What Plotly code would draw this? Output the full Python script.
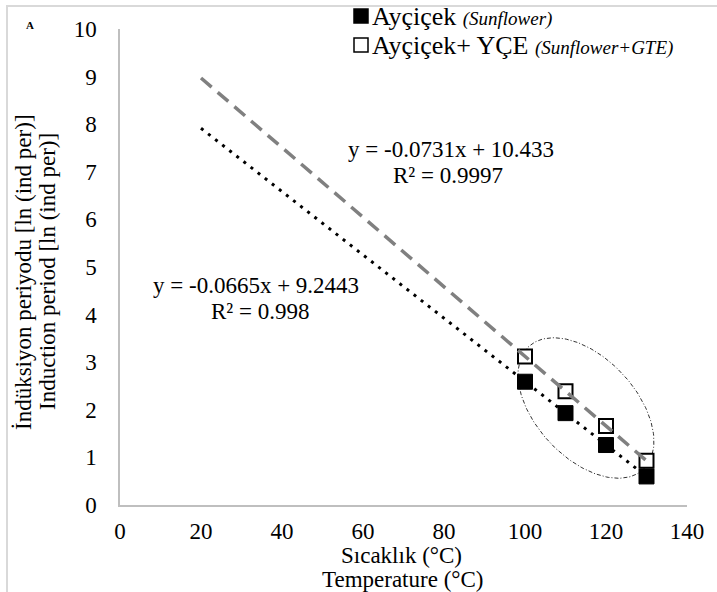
import numpy as np
import plotly.graph_objects as go

# ---- data ----
temps = [100, 110, 120, 130]
sunflower = [2.59, 1.93, 1.26, 0.60]
sunflower_gte = [3.12, 2.39, 1.66, 0.93]

trend_x = [20, 130]
trend_sun = [7.914, 0.600]
trend_gte = [8.971, 0.930]

x_ticks = [0, 20, 40, 60, 80, 100, 120, 140]
y_ticks = [0, 1, 2, 3, 4, 5, 6, 7, 8, 9, 10]

legend_names = ["Ayçiçek", "Ayçiçek+ YÇE"]
legend_sub = ["(Sunflower)", "(Sunflower+GTE)"]

FONT = "Liberation Serif, Times New Roman, serif"
W, H = 717, 592
ML, MR, MT, MB = 120, 30, 29, 87
XR = [0, 140]
YR = [0, 10]
pw = W - ML - MR
ph = H - MT - MB
sx = pw / (XR[1] - XR[0])
sy = ph / (YR[1] - YR[0])

def px2x(px):
    return (px - ML) / sx
def py2y(py):
    return (H - MB - py) / sy
def ppx(px):
    return (px - ML) / pw
def ppy(py):
    return (H - MB - py) / ph

fig = go.Figure()

# ellipse highlight (defined in pixel space, converted to data)
cx_px, cy_px, a_px, b_px, ang = 586, 408, 84, 50, np.deg2rad(47)
t = np.linspace(0, 2 * np.pi, 200)
ex_px = cx_px + a_px * np.cos(t) * np.cos(ang) - b_px * np.sin(t) * np.sin(ang)
ey_px = cy_px + a_px * np.cos(t) * np.sin(ang) + b_px * np.sin(t) * np.cos(ang)
fig.add_trace(go.Scatter(x=px2x(ex_px), y=py2y(ey_px), mode="lines", showlegend=False, hoverinfo="skip",
                         line=dict(color="black", width=0.8, dash="4px,2px,1px,2px")))

fig.add_trace(go.Scatter(
    x=temps, y=sunflower, mode="markers", showlegend=False,
    marker=dict(symbol="square", size=15, color="black", line=dict(color="black", width=1))))
fig.add_trace(go.Scatter(
    x=temps, y=sunflower_gte, mode="markers", showlegend=False,
    marker=dict(symbol="square", size=14, color="white", line=dict(color="black", width=2))))

fig.add_trace(go.Scatter(x=trend_x, y=trend_gte, mode="lines", showlegend=False,
                         line=dict(color="#808080", width=3.5, dash="14px,8px")))
fig.add_trace(go.Scatter(x=trend_x, y=trend_sun, mode="lines", showlegend=False,
                         line=dict(color="black", width=3, dash="3px,6px")))

FS = 23
tf = dict(size=FS, family=FONT, color="black")
C = dict(showarrow=False, xanchor="center", yanchor="middle")
ann = []
ann.append(dict(x=px2x(451), y=py2y(149), text="y = -0.0731x + 10.433", font=tf, **C))
ann.append(dict(x=px2x(448), y=py2y(175), text="R² = 0.9997", font=tf, **C))
ann.append(dict(x=px2x(256), y=py2y(285), text="y = -0.0665x + 9.2443", font=tf, **C))
ann.append(dict(x=px2x(260), y=py2y(311), text="R² = 0.998", font=tf, **C))
# axis titles
ann.append(dict(xref="paper", yref="paper", x=ppx(401), y=ppy(555),
                text="Sıcaklık (°C)", font=tf, **C))
ann.append(dict(xref="paper", yref="paper", x=ppx(402), y=ppy(579),
                text="Temperature (°C)", font=tf, **C))
ann.append(dict(xref="paper", yref="paper", x=ppx(23), y=ppy(272), textangle=-90,
                text="İndüksiyon periyodu [ln (ind per)]", font=tf, **C))
ann.append(dict(xref="paper", yref="paper", x=ppx(47), y=ppy(272), textangle=-90,
                text="Induction period [ln (ind per)]", font=tf, **C))
ann.append(dict(xref="paper", yref="paper", x=ppx(30), y=ppy(25),
                text="<b>A</b>", font=dict(size=11, family=FONT, color="black"), **C))

# manual legend
shapes = []
leg_y = [16, 45]
fills = ["black", "white"]
for i in range(2):
    ann.append(dict(xref="paper", yref="paper", x=ppx(370), y=ppy(leg_y[i]), xanchor="left",
                    yanchor="middle", showarrow=False,
                    text=legend_names[i] + " <i><span style='font-size:19px'>" + legend_sub[i] + "</span></i>",
                    font=dict(size=26, family=FONT, color="black")))
    shapes.append(dict(type="rect", xref="paper", yref="paper",
                       x0=ppx(354), x1=ppx(368), y0=ppy(leg_y[i] + 7), y1=ppy(leg_y[i] - 7),
                       line=dict(color="black", width=1.5), fillcolor=fills[i]))

shapes.append(dict(type="rect", xref="paper", yref="paper",
                   x0=ppx(7), x1=ppx(W + 20), y0=ppy(H + 20), y1=ppy(6),
                   line=dict(color="#d9d9d9", width=2), fillcolor="rgba(0,0,0,0)", layer="below"))

fig.update_layout(
    width=W, height=H,
    margin=dict(l=ML, r=MR, t=MT, b=MB),
    paper_bgcolor="white", plot_bgcolor="white",
    font=dict(family=FONT, size=FS, color="black"),
    xaxis=dict(range=XR, tickvals=x_ticks, showgrid=False, zeroline=False,
               showline=True, linecolor="#bfbfbf", linewidth=1.5, ticks="",
               tickfont=tf, ticklabelstandoff=5),
    yaxis=dict(range=YR, tickvals=y_ticks, showgrid=False, zeroline=False,
               showline=True, linecolor="#bfbfbf", linewidth=1.5, ticks="",
               tickfont=tf, ticklabelstandoff=17),
    annotations=ann,
    shapes=shapes,
    showlegend=False,
)

fig.write_html("out.html")
